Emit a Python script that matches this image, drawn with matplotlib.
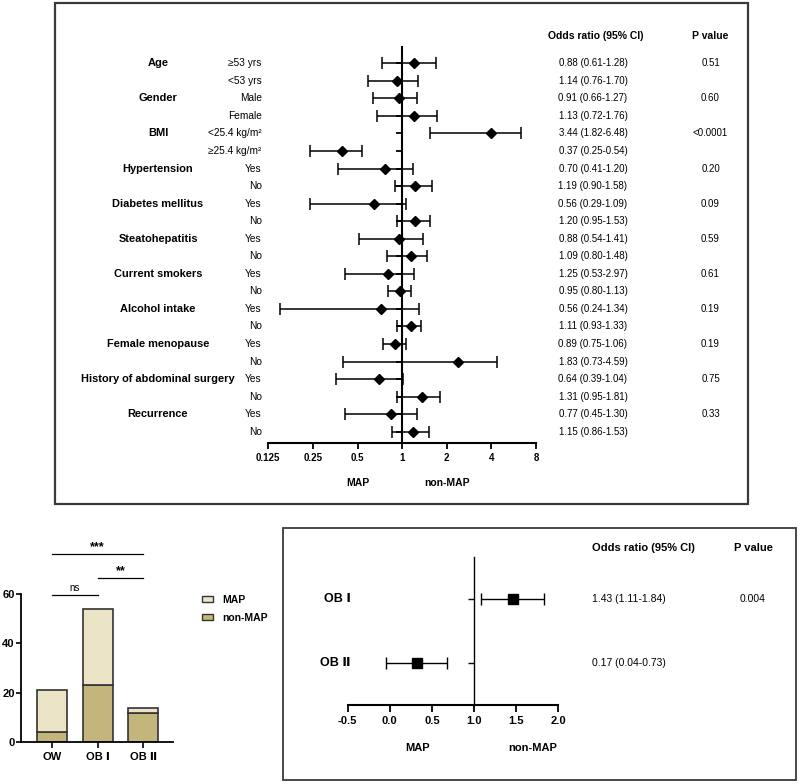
import matplotlib
matplotlib.use("Agg")
import matplotlib.pyplot as plt
from matplotlib.patches import Rectangle, Patch
from matplotlib.ticker import NullLocator
from matplotlib.transforms import blended_transform_factory as blend

plt.rcParams["font.family"] = ["Liberation Sans", "DejaVu Sans", "Noto Sans CJK SC"]

# ---------------- data: subgroup forest plot (top) ----------------
groups = ["Age", "Gender", "BMI", "Hypertension", "Diabetes mellitus", "Steatohepatitis",
          "Current smokers", "Alcohol intake", "Female menopause",
          "History of abdominal surgery", "Recurrence"]
subgroups = ["≥53 yrs", "<53 yrs", "Male", "Female", "<25.4 kg/m²", "≥25.4 kg/m²"] + ["Yes", "No"] * 8
# values as drawn in the plot
or_plot = [1.21, 0.93, 0.95, 1.21, 3.96, 0.39, 0.77, 1.23, 0.65, 1.23, 0.95,
           1.14, 0.80, 0.96, 0.72, 1.14, 0.90, 2.39, 0.70, 1.37, 0.84, 1.19]
ci_low = [0.73, 0.59, 0.64, 0.68, 1.55, 0.24, 0.37, 0.89, 0.24, 0.93, 0.51,
          0.79, 0.41, 0.80, 0.15, 0.93, 0.74, 0.40, 0.36, 0.93, 0.41, 0.85]
ci_high = [1.68, 1.28, 1.26, 1.73, 6.30, 0.54, 1.18, 1.58, 1.06, 1.53, 1.39,
           1.48, 1.20, 1.14, 1.30, 1.33, 1.06, 4.39, 1.02, 1.80, 1.26, 1.51]
or_text = ["0.88 (0.61-1.28)", "1.14 (0.76-1.70)", "0.91 (0.66-1.27)", "1.13 (0.72-1.76)",
           "3.44 (1.82-6.48)", "0.37 (0.25-0.54)", "0.70 (0.41-1.20)", "1.19 (0.90-1.58)",
           "0.56 (0.29-1.09)", "1.20 (0.95-1.53)", "0.88 (0.54-1.41)", "1.09 (0.80-1.48)",
           "1.25 (0.53-2.97)", "0.95 (0.80-1.13)", "0.56 (0.24-1.34)", "1.11 (0.93-1.33)",
           "0.89 (0.75-1.06)", "1.83 (0.73-4.59)", "0.64 (0.39-1.04)", "1.31 (0.95-1.81)",
           "0.77 (0.45-1.30)", "1.15 (0.86-1.53)"]
p_text = ["0.51", "0.60", "<0.0001", "0.20", "0.09", "0.59", "0.61", "0.19", "0.19", "0.75", "0.33"]
log_ticks = [0.125, 0.25, 0.5, 1, 2, 4, 8]
log_ticklabels = ["0.125", "0.25", "0.5", "1", "2", "4", "8"]

# ---------------- data: stacked bars (bottom left) ----------------
bar_cats = ["OW", "OB Ⅰ", "OB Ⅱ"]
non_map = [4, 23, 12]
map_cnt = [17, 31, 2]

# ---------------- data: OB forest plot (bottom right) ----------------
ob_labels = ["OB Ⅰ", "OB Ⅱ"]
ob_or = [1.46, 0.32]
ob_low = [1.09, -0.05]
ob_high = [1.83, 0.68]
ob_text = ["1.43 (1.11-1.84)", "0.17 (0.04-0.73)"]
ob_p = ["0.004", ""]
lin_ticks = [-0.5, 0.0, 0.5, 1.0, 1.5, 2.0]

W, H = 800, 784
fig = plt.figure(figsize=(W / 100, H / 100), dpi=100, facecolor="white")


def fx(x):
    return x / W


def fy(y):
    return 1 - y / H


def axes_px(x0, y0, x1, y1):
    return fig.add_axes([fx(x0), fy(y1), (x1 - x0) / W, (y1 - y0) / H])


frame_col = "#3a3a3a"
fig.add_artist(Rectangle((fx(55), fy(504)), (748 - 55) / W, (504 - 3) / H,
                         transform=fig.transFigure, fill=False, lw=1.6, ec=frame_col))
fig.add_artist(Rectangle((fx(283), fy(780)), (796 - 283) / W, (780 - 528) / H,
                         transform=fig.transFigure, fill=False, lw=1.3, ec=frame_col))

# ================= top forest =================
ax = axes_px(268.3, 47, 536, 443)
rows = list(range(len(or_plot)))
xerr = [[o - l for o, l in zip(or_plot, ci_low)], [h - o for o, h in zip(or_plot, ci_high)]]
ax.errorbar(or_plot, rows, xerr=xerr, fmt="D", color="black", ms=5, capsize=4,
            elinewidth=1.1, capthick=1.1, clip_on=False, zorder=3)
ax.set_xscale("log", base=2)
ax.set_xlim(0.125, 8)
ax.set_ylim(21.64, -0.93)
for s in ["top", "right"]:
    ax.spines[s].set_visible(False)
ax.spines["left"].set_position(("data", 1))
ax.spines["left"].set_linewidth(1.5)
ax.spines["bottom"].set_linewidth(1.5)
ax.set_xticks(log_ticks)
ax.set_xticklabels(log_ticklabels, fontsize=7, fontweight="bold")
ax.xaxis.set_minor_locator(NullLocator())
ax.set_yticks(rows)
ax.set_yticklabels([])
ax.tick_params(axis="both", length=4, width=1.3, pad=3)
ax.patch.set_alpha(0)

tr = blend(fig.transFigure, ax.transData)
for i, g in enumerate(groups):
    ax.text(fx(158), 2 * i, g, transform=tr, ha="center", va="center",
            fontsize=7.9, fontweight="bold")
    ax.text(fx(710.5), 2 * i, p_text[i], transform=tr, ha="center", va="center", fontsize=7)
for i, (sg, t) in enumerate(zip(subgroups, or_text)):
    ax.text(fx(261.7), i, sg, transform=tr, ha="right", va="center", fontsize=7.3)
    ax.text(fx(593), i, t, transform=tr, ha="center", va="center", fontsize=7)
fig.text(fx(596), fy(36), "Odds ratio (95% CI)", ha="center", va="center",
         fontsize=7.5, fontweight="bold")
fig.text(fx(710.5), fy(36), "P value", ha="center", va="center", fontsize=7.5, fontweight="bold")
trx = blend(ax.transData, fig.transFigure)
ax.text(0.5, fy(483), "MAP", transform=trx, ha="center", va="center", fontsize=7.5, fontweight="bold")
ax.text(2, fy(483), "non-MAP", transform=trx, ha="center", va="center", fontsize=7.5, fontweight="bold")

# ================= bottom-right forest =================
ax2 = axes_px(347.7, 556.7, 558, 705)
r2 = list(range(len(ob_or)))
xerr2 = [[o - l for o, l in zip(ob_or, ob_low)], [h - o for o, h in zip(ob_or, ob_high)]]
ax2.errorbar(ob_or, r2, xerr=xerr2, fmt="s", color="black", ms=7.5, capsize=4,
             elinewidth=1.0, capthick=1.0, clip_on=False, zorder=3)
ax2.set_xlim(-0.5, 2.0)
ax2.set_ylim(1.667, -0.672)
for s in ["top", "right"]:
    ax2.spines[s].set_visible(False)
ax2.spines["left"].set_position(("data", 1.0))
ax2.spines["left"].set_linewidth(1.0)
ax2.spines["bottom"].set_linewidth(1.5)
ax2.set_xticks(lin_ticks)
ax2.set_xticklabels([f"{v:.1f}" for v in lin_ticks], fontsize=8, fontweight="bold")
ax2.set_yticks(r2)
ax2.set_yticklabels([])
ax2.tick_params(axis="x", length=5, width=1.3, pad=3)
ax2.tick_params(axis="y", length=4, width=1.0)
ax2.patch.set_alpha(0)

tr2 = blend(fig.transFigure, ax2.transData)
for i, lab in enumerate(ob_labels):
    ax2.text(fx(351), i, lab, transform=tr2, ha="right", va="center", fontsize=9, fontweight="bold")
    ax2.text(fx(592), i, ob_text[i], transform=tr2, ha="left", va="center", fontsize=7.5)
    ax2.text(fx(753), i, ob_p[i], transform=tr2, ha="center", va="center", fontsize=7.5)
fig.text(fx(592), fy(548), "Odds ratio (95% CI)", ha="left", va="center", fontsize=8, fontweight="bold")
fig.text(fx(753), fy(548), "P value", ha="center", va="center", fontsize=8, fontweight="bold")
trx2 = blend(ax2.transData, fig.transFigure)
ax2.text(0.33, fy(748), "MAP", transform=trx2, ha="center", va="center", fontsize=8, fontweight="bold")
ax2.text(1.70, fy(748), "non-MAP", transform=trx2, ha="center", va="center", fontsize=8, fontweight="bold")

# ================= stacked bars =================
map_col = "#ece4c7"
non_col = "#c4b57c"
edge = "#333333"
ax3 = axes_px(20.7, 594, 173.3, 742.3)
xb = list(range(len(bar_cats)))
ax3.bar(xb, non_map, width=0.655, color=non_col, edgecolor=edge, lw=1.2)
ax3.bar(xb, map_cnt, width=0.655, bottom=non_map, color=map_col, edgecolor=edge, lw=1.2)
ax3.set_xlim(-0.677, 2.655)
ax3.set_ylim(0, 60)
ax3.set_yticks([0, 20, 40, 60])
ax3.set_yticklabels(["0", "20", "40", "60"], fontsize=8, fontweight="bold")
ax3.set_xticks(xb)
ax3.set_xticklabels(bar_cats, fontsize=8, fontweight="bold")
for s in ["top", "right"]:
    ax3.spines[s].set_visible(False)
for s in ["left", "bottom"]:
    ax3.spines[s].set_linewidth(1.3)
ax3.tick_params(axis="x", length=4, width=1.2, pad=3)
ax3.tick_params(axis="y", length=3.5, width=1.2, pad=0.8)

# significance brackets
ax3.plot([0, 2], [76, 76], color="black", lw=0.9, clip_on=False)
ax3.text(1, 76.5, "***", ha="center", va="bottom", fontsize=9, fontweight="bold")
ax3.plot([1, 2], [66.4, 66.4], color="black", lw=0.9, clip_on=False)
ax3.text(1.5, 66.9, "**", ha="center", va="bottom", fontsize=9, fontweight="bold")
ax3.plot([0, 1], [59.4, 59.4], color="black", lw=0.9, clip_on=False)
ax3.text(0.5, 60.6, "ns", ha="center", va="bottom", fontsize=7)

handles = [Patch(facecolor=map_col, edgecolor=edge, lw=1.0, label="MAP"),
           Patch(facecolor=non_col, edgecolor=edge, lw=1.0, label="non-MAP")]
fig.legend(handles=handles, loc="upper left", bbox_to_anchor=(fx(202), fy(595)),
           frameon=False, prop={"size": 7.5, "weight": "bold"}, handlelength=1.05,
           handleheight=0.5, handletextpad=0.9, labelspacing=0.75,
           borderaxespad=0, borderpad=0)

fig.savefig("out.png", dpi=100, facecolor="white")
